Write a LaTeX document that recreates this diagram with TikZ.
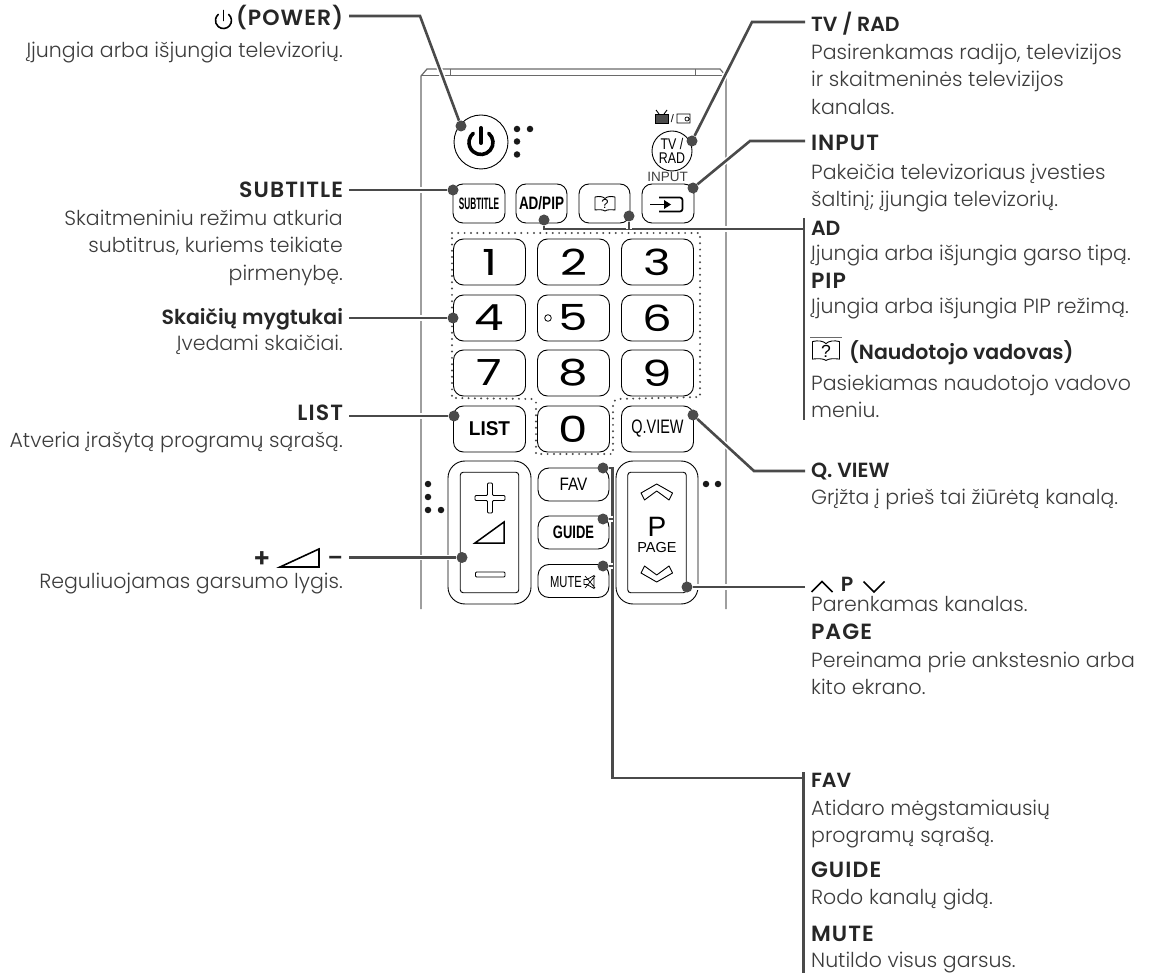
\documentclass[tikz,border=0pt]{standalone}
\usepackage{fontspec}
\usepackage{graphicx}
\setmainfont{Poppins Light}
\newfontfamily\ttlfont{Poppins SemiBold}
\newfontfamily\capfont{Poppins SemiBold}[LetterSpace=5]
\newfontfamily\btnfont{Liberation Sans}
\newfontfamily\digfont{Poppins}
\definecolor{leadgray}{HTML}{4A4A4A}
\definecolor{bodygray}{HTML}{6A6A6A}
\definecolor{inkgray}{HTML}{3C3C3C}
\tikzset{
  ttll/.style={anchor=base west, inner sep=0pt, outer xsep=6pt, text=black!85, font=\fontsize{22}{27.5}\capfont},
  ttlr/.style={anchor=base east, inner sep=0pt, outer xsep=6pt, text=black!85, font=\fontsize{22}{27.5}\capfont},
  ttlplain/.style={font=\fontsize{20.5}{27.5}\ttlfont},
  descl/.style={anchor=north west, inner sep=0pt, align=left, text=inkgray, font=\fontsize{20.5}{27.5}\selectfont, execute at begin node=\strut},
  descr/.style={anchor=north east, inner sep=0pt, align=right, text=inkgray, font=\fontsize{20.5}{27.5}\selectfont, execute at begin node=\strut},
  btn/.style={draw=black, line width=0.9pt, rounded corners=10pt, inner sep=0pt, font=\btnfont},
  numbtn/.style={btn, minimum width=72pt, minimum height=46pt, font=\fontsize{36}{36}\digfont},
  dot/.style={circle, fill=leadgray, inner sep=0pt, minimum size=11pt},
  pip/.style={circle, fill=black!90, inner sep=0pt, minimum size=6.5pt},
  leader/.style={draw=leadgray, line width=2.6pt, line join=miter, preaction={draw=white, line width=5.5pt}},
  barline/.style={draw=leadgray, line width=2.8pt},
  icon/.style={draw=black, line width=0.9pt},
  bookicon/.pic={
    \draw[line width=0.9pt, line join=round] (-10,-7) .. controls (-6,-8) and (-2,-7.5) .. (0,-5.5) .. controls (2,-7.5) and (6,-8) .. (10,-7) -- (10,6) .. controls (6,5.5) and (2,5.5) .. (0,7) .. controls (-2,5.5) and (-6,5.5) .. (-10,6) -- cycle;
    \node[font=\fontsize{13}{13}\btnfont, inner sep=0pt, transform shape] at (0,0) {?};
  },
}

\begin{document}
\begin{tikzpicture}[x=1pt, y=-1pt, >=stealth]
    \useasboundingbox (0,0) rectangle (1157,973);
    % remote body
    \draw[draw=bodygray, line width=1.2pt] (421,609) -- (421,76) -- (427,69) -- (720,69) -- (726,76) -- (726,609);
    \draw[draw=bodygray, line width=1pt] (421,76) -- (726,76) (450,69) -- (450,76) (695,69) -- (695,76);
    % power and tv buttons
    \node[btn, circle, minimum size=54pt] (btnpower) at (481,142) {};
    \draw[line width=3.6pt, line cap=round] (488.7,133.3) arc[start angle=50, end angle=-230, radius=12pt];
    \draw[line width=4pt, line cap=round] (481,128) -- (481,143);
    \node[btn, circle, minimum size=40pt, align=center, font=\fontsize{15.5}{13.5}\btnfont] (btntv) at (672,151) {\scalebox{.8}[1]{TV /}\\\scalebox{.8}[1]{RAD}};
    \draw[icon, fill=black!70] (655,114) rectangle (668,123);
    \draw[icon] (659,114) -- (656,110) (664,114) -- (667,110);
    \node[inner sep=0pt, font=\fontsize{11}{11}\btnfont] (ttvslash) at (672.5,118.5) {/};
    \draw[icon, line width=0.7pt] (677,114) rectangle (690,123) (687,119) circle (2pt);
    \node[inner sep=0pt, text=black!75, font=\fontsize{13.5}{13.5}\btnfont] (txtinput) at (667.5,177) {INPUT};
    % small dots by the buttons
    \foreach \px/\py [count=\i] in {517/129, 530/129, 517/141.5, 517/154.5, 428/484, 428/497, 428/510, 441/510, 706/484, 718/484}
      \node[pip] (pip\i) at (\px,\py) {};
    % top row
    \node[btn, minimum width=52pt, minimum height=39pt, font=\fontsize{16.5}{16.5}\btnfont\bfseries] (btnsub) at (479,203.5) {\scalebox{.5}[1]{SUBTITLE}};
    \node[btn, minimum width=51pt, minimum height=39pt, font=\fontsize{18}{18}\btnfont\bfseries] (btnad) at (541.5,203.5) {\scalebox{.75}[1]{AD/PIP}};
    \node[btn, minimum width=51pt, minimum height=39pt] (btnbook) at (604.5,203.5) {};
    \pic at (605,204) {bookicon};
    \node[btn, minimum width=52pt, minimum height=39pt] (btninput) at (668,203.5) {};
    \draw[line width=1.7pt, rounded corners=2.5pt] (659,197.5) -- (682.5,197.5) -- (682.5,211.5) -- (659,211.5);
    \draw[line width=0.1pt, fill=white, draw=white] (656,200) rectangle (666,209);
    \draw[line width=1.7pt] (650,204.5) -- (666,204.5);
    \fill (671,204.5) -- (664,200) -- (664,209) -- cycle;
    % number keys
    \foreach \digit/\cx/\cy in {1/489.5/262, 2/573.5/262, 3/657.5/262, 4/489.5/318, 5/573.5/318, 6/657.5/318, 7/489.5/373, 8/573.5/373, 9/657.5/373, 0/573.5/429}
      \node[numbtn] (num\digit) at (\cx,\cy) {\scalebox{1.3}[1]{\digit}};
    \draw[line width=0.8pt] (548,318) circle (3.3pt);
    \draw[draw=leadgray, line width=2.2pt, line cap=round, dash pattern=on 0pt off 6.3pt] (452,233) -- (700,233) -- (700,397) -- (617,399) -- (613,402) -- (613,454) -- (536,454) -- (536,402) -- (533,399) -- (452,398) -- cycle;
    \node[btn, minimum width=72pt, minimum height=46pt, font=\fontsize{20}{20}\btnfont\bfseries] (btnlist) at (489.5,429) {\scalebox{.95}[1]{LIST}};
    \node[btn, minimum width=72pt, minimum height=46pt, font=\fontsize{19.5}{19.5}\btnfont] (btnqv) at (657.5,429) {\scalebox{.74}[1]{Q.VIEW}};
    % volume rocker
    \node[btn, minimum width=83pt, minimum height=143pt, rounded corners=17pt] (volouter) at (489.5,532.5) {};
    \node[btn, minimum width=58.5pt, minimum height=120.5pt, rounded corners=3pt] (volinner) at (489.5,532.5) {};
    \draw[icon, rounded corners=1pt] (487.5,483) -- (492.5,483) -- (492.5,495.5) -- (505,495.5) -- (505,500.5) -- (492.5,500.5) -- (492.5,513) -- (487.5,513) -- (487.5,500.5) -- (475,500.5) -- (475,495.5) -- (487.5,495.5) -- cycle;
    \draw[line width=1.5pt, fill=white, line join=miter] (475,543) -- (504,543) -- (504,522) -- cycle;
    \draw[icon, rounded corners=1pt] (475.5,572) rectangle (505,577);
    % middle keys
    \node[btn, minimum width=71pt, minimum height=33pt, rounded corners=11pt, font=\fontsize{18}{18}\btnfont] (btnfav) at (573.5,484.5) {\scalebox{.85}[1]{FAV}};
    \node[btn, minimum width=71pt, minimum height=33pt, rounded corners=11pt, font=\fontsize{18}{18}\btnfont\bfseries] (btnguide) at (573.5,532.5) {\scalebox{.72}[1]{GUIDE}};
    \node[btn, minimum width=71pt, minimum height=33pt, rounded corners=11pt] (btnmute) at (573.5,581) {};
    \node[inner sep=0pt, font=\fontsize{16}{16}\btnfont] (txtmute) at (566,582) {\scalebox{.7}[1]{MUTE}};
    \draw[line width=0.7pt] (584,579.5) -- (587,579.5) -- (594,575.5) -- (594,588.5) -- (587,584.5) -- (584,584.5) -- cycle (585,576) -- (595,588) (585,588) -- (595,576);
    % page rocker
    \node[btn, minimum width=82pt, minimum height=143pt, rounded corners=17pt] (pageouter) at (657,532.5) {};
    \node[btn, minimum width=58.5pt, minimum height=120.5pt, rounded corners=3pt] (pageinner) at (657,532.5) {};
    \draw[icon, line join=round] (641,493) -- (656.7,484) -- (672.5,493) -- (669,500) -- (656.7,491) -- (644.5,500) -- cycle;
    \draw[icon, line join=round] (641,573) -- (656.7,582) -- (672.5,573) -- (669,566) -- (656.7,575) -- (644.5,566) -- cycle;
    \node[inner sep=0pt, font=\fontsize{28}{28}\btnfont] (txtp) at (657,527) {P};
    \node[inner sep=0pt, font=\fontsize{14.5}{14.5}\btnfont] (txtpage) at (657,548) {PAGE};
    % left labels
    \node[ttlr] (lblpower) at (349,25.5) {(POWER)};
    \draw[line width=1.6pt, line cap=round] (228.6,14.4) arc[start angle=50, end angle=-230, radius=8pt];
    \draw[line width=1.6pt, line cap=round] (223.5,10.5) -- (223.5,20.5);
    \node[descr] (descpower) at (343,38) {Įjungia arba išjungia televizorių.};
    \node[ttlr] (lblsub) at (349,197.5) {SUBTITLE};
    \node[descr] (descsub) at (343,209.5) {Skaitmeniniu režimu atkuria\\subtitrus, kuriems teikiate\\pirmenybę.};
    \node[ttlr, ttlplain] (lblnum) at (349,324.5) {Skaičių mygtukai};
    \node[descr] (descnum) at (343,331.5) {Įvedami skaičiai.};
    \node[ttlr] (lbllist) at (349,420.5) {LIST};
    \node[descr] (desclist) at (343,428.5) {Atveria įrašytą programų sąrašą.};
    \node[ttlr] (lblminus) at (349,565) {–};
    \draw[line width=1.6pt] (280,567) -- (319,567) -- (319,549) -- cycle;
    \node[anchor=base, inner sep=0pt, text=black!85, font=\fontsize{26}{26}\ttlfont] (lblplus) at (262,567) {+};
    \node[descr] (descvol) at (343,569.5) {Reguliuojamas garsumo lygis.};
    % right labels
    \node[ttll, ttlplain] (lbltv) at (805,31.5) {TV / RAD};
    \node[descl] (desctv) at (811,43.5) {Pasirenkamas radijo, televizijos\\ir skaitmeninės televizijos\\kanalas.};
    \node[ttll] (lblinput) at (805,150.5) {INPUT};
    \node[descl] (descinput) at (811,163.5) {Pakeičia televizoriaus įvesties\\šaltinį; įjungia televizorių.};
    \node[ttll, ttlplain] (lblad) at (805,235.5) {AD};
    \node[descl] (descad) at (811,241.5) {Įjungia arba išjungia garso tipą.};
    \node[ttll] (lblpip) at (805,288.5) {PIP};
    \node[descl] (descpip) at (811,294.5) {Įjungia arba išjungia PIP režimą.};
    \pic[scale=1.35] at (826,351) {bookicon};
    \draw[draw=bodygray, line width=0.7pt] (810,337) -- (842,337);
    \node[ttll, ttlplain] (lblbook) at (843,359.5) {(Naudotojo vadovas)};
    \node[descl] (descbook) at (811,374.5) {Pasiekiamas naudotojo vadovo\\meniu.};
    \node[ttll, ttlplain] (lblqv) at (805,478) {Q. VIEW};
    \node[descl] (descqv) at (811,485) {Grįžta į prieš tai žiūrėtą kanalą.};
    \draw[line width=1.6pt] (811.5,592) -- (822,581.5) -- (832.5,592);
    \node[anchor=base, inner sep=0pt, text=black!85, font=\fontsize{20.5}{20.5}\ttlfont] (lblp) at (847,591.5) {P};
    \draw[line width=1.6pt] (863.5,581.5) -- (874,592) -- (884.5,581.5);
    \node[descl, anchor=base west, execute at begin node={}] (descp) at (811,611) {Parenkamas kanalas.};
    \node[ttll] (lblpage) at (805,639.5) {PAGE};
    \node[descl] (descpage) at (811,651.5) {Pereinama prie ankstesnio arba\\kito ekrano.};
    \node[ttll, ttlplain] (lblfav) at (805,787.5) {FAV};
    \node[descl] (descfav) at (811,799.5) {Atidaro mėgstamiausių\\programų sąrašą.};
    \node[ttll] (lblguide) at (805,877.5) {GUIDE};
    \node[descl] (descguide) at (811,885.5) {Rodo kanalų gidą.};
    \node[ttll] (lblmute) at (805,941.5) {MUTE};
    \node[descl, anchor=base west, execute at begin node={}] (descmute) at (811,967.5) {Nutildo visus garsus.};
    % leader dots
    \node[dot] (dotpower) at (461,126) {};
    \node[dot] (dottv) at (692,141) {};
    \node[dot] (dotinput) at (693,188) {};
    \node[dot] (dotsub) at (453,190) {};
    \node[dot] (dotad) at (544,220) {};
    \node[dot] (dotbook) at (629,216) {};
    \node[dot] (dotnum) at (453,318) {};
    \node[dot] (dotlist) at (454,416) {};
    \node[dot] (dotqv) at (693,415) {};
    \node[dot] (dotvol) at (462,557.5) {};
    \node[dot] (dotfav) at (603,468) {};
    \node[dot] (dotguide) at (603,519) {};
    \node[dot] (dotmute) at (603,566) {};
    \node[dot] (dotpage) at (687,587) {};
    % knees of the leaders
    \coordinate (kneepower) at (420,16);
    \coordinate (kneetv) at (752,22);
    \coordinate (kneeinput) at (750,141);
    \coordinate (kneead) at (804,229);
    \coordinate (kneeqv) at (754,471);
    \coordinate (kneefav) at (612.5,468);
    \coordinate (kneelow) at (612.5,778);
    \coordinate (barfav) at (803.5,778);
    % leaders
    \draw[leader] (lblpower.east |- kneepower) -- (kneepower) -- (dotpower);
    \draw[leader] (lbltv.west |- kneetv) -- (kneetv) -- (dottv);
    \draw[leader] (lblinput.west |- kneeinput) -- (kneeinput) -- (dotinput);
    \draw[leader] (lblsub.east |- dotsub) -- (dotsub);
    \draw[leader] (lblnum.east |- dotnum) -- (dotnum);
    \draw[leader] (lbllist.east |- dotlist) -- (dotlist);
    \draw[leader] (lblminus.east |- dotvol) -- (dotvol);
    \draw[leader] (lblqv.west |- kneeqv) -- (kneeqv) -- (dotqv);
    \draw[leader] (lblpage.west |- dotpage) -- (dotpage);
    \draw[leader] (dotad) -- (dotad |- kneead) -- (kneead);
    \draw[leader] (dotbook) -- (dotbook |- kneead);
    \draw[leader] (dotfav) -- (kneefav) -- (kneelow) -- (barfav);
    \draw[leader] (dotguide) -- (dotguide -| kneefav);
    \draw[leader] (dotmute) -- (dotmute -| kneefav);
    \draw[barline] (804,218) -- (804,420);
    \draw[barline] (803.5,772) -- (803.5,973);
\end{tikzpicture}
\end{document}
